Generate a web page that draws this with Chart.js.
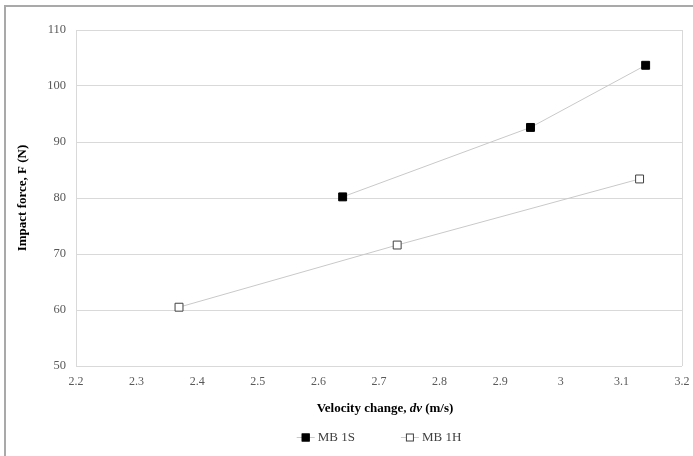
<!DOCTYPE html>
<html>
<head>
<meta charset="utf-8">
<script src="https://cdn.jsdelivr.net/npm/chart.js@4"></script>
<style>
    html, body { margin: 0; padding: 0; background: #fff; }
    #wrap { position: relative; width: 693px; height: 456px; overflow: hidden; }
    #frame { position: absolute; left: 4px; top: 5px; width: 700px; height: 460px;
             border-left: 2px solid #a9a9a9; border-top: 2px solid #a9a9a9; }
    canvas { position: absolute; left: 0; top: 0; }
</style>
</head>
<body>
<div id="wrap">
    <div id="frame"></div>
    <canvas id="myChart" width="693" height="456"></canvas>
</div>
<script>
// velocity change (m/s) and impact force (N)
const mb1sX = [2.64, 2.95, 3.14];
const mb1sY = [80.2, 92.6, 103.7];
const mb1hX = [2.37, 2.73, 3.13];
const mb1hY = [60.5, 71.6, 83.4];
const seriesNames = ['MB 1S', 'MB 1H'];
const xTitleParts = [['Velocity change, ', 'bold'], ['dv', 'italic bold'], [' (m/s)', 'bold']];

const serif = "'Liberation Serif', 'Times New Roman', serif";

const toPoints = (xs, ys) => xs.map((x, i) => ({ x: x, y: ys[i] }));

// Excel-like legend (line through marker) and mixed-style x title
const extrasPlugin = {
    id: 'extras',
    afterDraw(chart) {
        const ctx = chart.ctx;
        const area = chart.chartArea;
        const cx = (area.left + area.right) / 2;

        // x axis title
        ctx.save();
        ctx.fillStyle = '#000';
        ctx.textBaseline = 'middle';
        let total = 0;
        xTitleParts.forEach(p => {
            ctx.font = p[1] + ' 13px ' + serif;
            total += ctx.measureText(p[0]).width;
        });
        let tx = cx + 6 - total / 2;
        xTitleParts.forEach(p => {
            ctx.font = p[1] + ' 13px ' + serif;
            ctx.fillText(p[0], tx, 409);
            tx += ctx.measureText(p[0]).width;
        });

        // legend
        ctx.font = '13px ' + serif;
        const gap = 46;
        const widths = chart.data.datasets.map(ds => 21 + ctx.measureText(ds.label).width);
        let lx = cx - (widths[0] + gap + widths[1]) / 2;
        const ly = 437;
        chart.data.datasets.forEach((ds, i) => {
            ctx.strokeStyle = ds.borderColor;
            ctx.lineWidth = 1;
            ctx.beginPath();
            ctx.moveTo(lx, ly + 0.5);
            ctx.lineTo(lx + 18, ly + 0.5);
            ctx.stroke();
            ctx.fillStyle = ds.pointBackgroundColor;
            ctx.fillRect(lx + 5, ly - 3.5, 8, 8);
            ctx.strokeStyle = ds.pointBorderColor;
            ctx.strokeRect(lx + 5.5, ly - 3, 7, 7);
            ctx.fillStyle = '#404040';
            ctx.textAlign = 'left';
            ctx.fillText(ds.label, lx + 21, ly + 1);
            lx += widths[i] + gap;
        });
        ctx.restore();
    }
};

const ctx = document.getElementById('myChart').getContext('2d');
const myChart = new Chart(ctx, {
    type: 'scatter',
    data: {
        datasets: [
            {
                label: seriesNames[0],
                data: toPoints(mb1sX, mb1sY),
                showLine: true,
                borderColor: '#c9c9c9',
                borderWidth: 1,
                pointStyle: 'rect',
                pointRadius: 5.6,
                pointBackgroundColor: '#000',
                pointBorderColor: '#000',
                pointBorderWidth: 1
            },
            {
                label: seriesNames[1],
                data: toPoints(mb1hX, mb1hY),
                showLine: true,
                borderColor: '#c9c9c9',
                borderWidth: 1,
                pointStyle: 'rect',
                pointRadius: 5.6,
                pointBackgroundColor: '#fff',
                pointBorderColor: '#404040',
                pointBorderWidth: 1
            }
        ]
    },
    options: {
        responsive: false,
        animation: false,
        layout: { padding: { left: 0, right: 11, top: 30, bottom: 0 } },
        plugins: {
            legend: { display: false },
            tooltip: { enabled: false }
        },
        scales: {
            x: {
                type: 'linear',
                min: 2.2,
                max: 3.2,
                afterFit: (scale) => {
                    scale.height = 90;
                    scale.paddingLeft = 0;
                    scale.paddingRight = 0;
                },
                ticks: {
                    stepSize: 0.1,
                    padding: 9,
                    color: '#595959',
                    font: { family: serif, size: 12 },
                    callback: (v) => Math.round(v * 10) / 10
                },
                grid: {
                    drawTicks: false,
                    color: (c) => (c.index === 0 || c.index === 10) ? '#d9d9d9' : 'rgba(0,0,0,0)'
                },
                border: { display: false }
            },
            y: {
                min: 50,
                max: 110,
                afterFit: (scale) => {
                    scale.width = 76;
                    scale.paddingTop = 0;
                    scale.paddingBottom = 0;
                },
                ticks: {
                    stepSize: 10,
                    padding: 10,
                    color: '#595959',
                    font: { family: serif, size: 12.5 }
                },
                grid: { drawTicks: false, color: '#d9d9d9' },
                border: { display: false },
                title: {
                    display: true,
                    text: 'Impact force, F (N)',
                    color: '#000',
                    font: { family: serif, size: 13, weight: 'bold' },
                    padding: { top: 15, bottom: 0 }
                }
            }
        }
    },
    plugins: [extrasPlugin]
});
</script>
</body>
</html>
